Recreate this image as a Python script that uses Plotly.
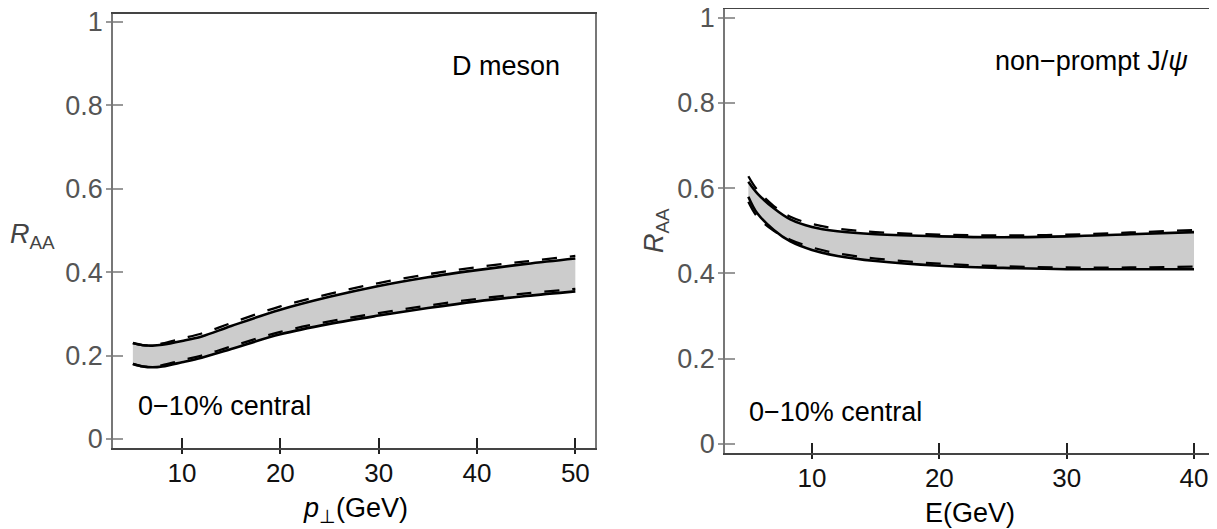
import plotly.graph_objects as go

W, H = 1217, 529
OX, OY = 8, 8  # page offset of the figure (browser body margin)

# ---------------- data: D meson (left) ----------------
d_pt = [5, 6, 7, 8, 10, 12, 15, 20, 25, 30, 35, 40, 45, 50]
d_up_solid = [0.230, 0.225, 0.224, 0.226, 0.235, 0.246, 0.271, 0.310, 0.341, 0.367, 0.388, 0.405, 0.420, 0.433]
d_up_dash = [0.230, 0.225, 0.225, 0.229, 0.241, 0.253, 0.278, 0.318, 0.348, 0.374, 0.395, 0.412, 0.426, 0.439]
d_lo_solid = [0.180, 0.174, 0.172, 0.174, 0.184, 0.195, 0.216, 0.251, 0.276, 0.296, 0.314, 0.330, 0.343, 0.354]
d_lo_dash = [0.180, 0.174, 0.173, 0.177, 0.189, 0.200, 0.222, 0.257, 0.282, 0.302, 0.320, 0.336, 0.349, 0.360]

# ---------------- data: non-prompt J/psi (right) ----------------
j_e = [5, 5.7, 7, 8.3, 10, 12, 15, 20, 25, 30, 35, 40]
j_up_solid = [0.615, 0.588, 0.553, 0.527, 0.509, 0.499, 0.492, 0.487, 0.485, 0.487, 0.492, 0.497]
j_up_dash = [0.628, 0.596, 0.558, 0.533, 0.516, 0.505, 0.497, 0.491, 0.489, 0.491, 0.496, 0.502]
j_lo_solid = [0.580, 0.541, 0.502, 0.475, 0.455, 0.441, 0.429, 0.418, 0.413, 0.410, 0.410, 0.410]
j_lo_dash = [0.568, 0.533, 0.500, 0.479, 0.461, 0.447, 0.435, 0.423, 0.417, 0.414, 0.414, 0.416]

x_ticks_left = [10, 20, 30, 40, 50]
x_ticks_right = [10, 20, 30, 40]
y_ticks = [0, 0.2, 0.4, 0.6, 0.8, 1]
y_tick_text = ["0", "0.2", "0.4", "0.6", "0.8", "1"]

FONT = "Liberation Sans"
FILL = "#cccccc"
DASH = "15px,13px"


def px_x(p):
    return (p - OX) / W


def px_y(p):
    return 1 - (p - OY) / H


fig = go.Figure()


def add_band(x, up_s, up_d, lo_s, lo_d, xa, ya):
    fig.add_trace(go.Scatter(x=x, y=lo_s, mode="lines", line=dict(width=0, shape="spline"),
                             xaxis=xa, yaxis=ya, showlegend=False, hoverinfo="skip"))
    fig.add_trace(go.Scatter(x=x, y=up_s, mode="lines", line=dict(width=0, shape="spline"),
                             fill="tonexty", fillcolor=FILL,
                             xaxis=xa, yaxis=ya, showlegend=False, hoverinfo="skip"))
    for yy in (up_d, lo_d):
        fig.add_trace(go.Scatter(x=x, y=yy, mode="lines",
                                 line=dict(color="black", width=2.3, dash=DASH, shape="spline"),
                                 xaxis=xa, yaxis=ya, showlegend=False))
    for yy in (up_s, lo_s):
        fig.add_trace(go.Scatter(x=x, y=yy, mode="lines",
                                 line=dict(color="black", width=2.6, shape="spline"),
                                 xaxis=xa, yaxis=ya, showlegend=False))


add_band(d_pt, d_up_solid, d_up_dash, d_lo_solid, d_lo_dash, "x", "y")
add_band(j_e, j_up_solid, j_up_dash, j_lo_solid, j_lo_dash, "x2", "y2")

# dummy traces so overlay tick axes are drawn
fig.add_trace(go.Scatter(x=[None], y=[None], xaxis="x3", yaxis="y3", showlegend=False))
fig.add_trace(go.Scatter(x=[None], y=[None], xaxis="x4", yaxis="y4", showlegend=False))

# ranges (page pixel -> data value calibrations from the reference)
L_xr = [2.98, 52.0]
L_yr = [-0.0216, 1.0192]
R_xr = [3.167, 40 + (W + OX - 1194) / 12.733]
R_yr = [-0.0211, 1.0202]

L_xdom = [px_x(113), px_x(595)]
L_ydom = [px_y(448), px_y(14)]
R_xdom = [px_x(725), 1.0]
R_ydom = [px_y(453), px_y(9)]

xtickfont = dict(family=FONT, size=26, color="#111111")
ytickfont = dict(family=FONT, size=27, color="#555555")

common_x = dict(showgrid=False, zeroline=False, showline=True, linecolor="#444444", linewidth=2,
                mirror=True, ticks="outside", ticklen=4, tickwidth=1.5, tickcolor="#222222",
                tickfont=xtickfont, automargin=False, ticklabeloverflow="allow",
                ticklabelstandoff=-3)
common_y = dict(showgrid=False, zeroline=False, showline=True, linecolor="#777777", linewidth=1.5,
                ticks="outside", ticklen=5, tickwidth=1.5, tickcolor="#999999",
                tickvals=y_ticks, ticktext=y_tick_text, tickfont=ytickfont, automargin=False,
                ticklabeloverflow="allow", ticklabelstandoff=-2)
ov = dict(showticklabels=False, showline=False, showgrid=False, zeroline=False,
          ticks="inside", ticklen=10, tickwidth=1.5, automargin=False)

fig.update_layout(
    width=W, height=H,
    margin=dict(l=0, r=0, t=0, b=0, pad=0, autoexpand=False),
    paper_bgcolor="white", plot_bgcolor="white",
    showlegend=False,
    xaxis=dict(domain=L_xdom, range=L_xr, anchor="y", tickvals=x_ticks_left, **common_x),
    yaxis=dict(domain=L_ydom, range=L_yr, anchor="x", mirror=True, **common_y),
    xaxis2=dict(domain=R_xdom, range=R_xr, anchor="y2", tickvals=x_ticks_right, **common_x),
    yaxis2=dict(domain=R_ydom, range=R_yr, anchor="x2", mirror=False, **common_y),
    # inner tick overlays
    xaxis3=dict(overlaying="x", anchor="y", range=L_xr, tickvals=x_ticks_left, tickcolor="#222222", **ov),
    yaxis3=dict(overlaying="y", anchor="x", range=L_yr, tickvals=y_ticks, tickcolor="#999999", **ov),
    xaxis4=dict(overlaying="x2", anchor="y2", range=R_xr, tickvals=x_ticks_right, tickcolor="#222222", **ov),
    yaxis4=dict(overlaying="y2", anchor="x2", range=R_yr, tickvals=y_ticks, tickcolor="#999999", **ov),
)


def ann(text, x, y, xanchor="left", yanchor="middle", angle=0, color="black", size=27):
    fig.add_annotation(text=text, x=px_x(x), y=px_y(y), xref="paper", yref="paper",
                       xanchor=xanchor, yanchor=yanchor, showarrow=False, textangle=angle,
                       font=dict(family=FONT, size=size, color=color))


ann("D meson", 450, 66)
ann("0−10% central", 136, 406)
ann("non−prompt J/<i>ψ</i>", 993, 61)
ann("0−10% central", 747, 412)
ann("<i>R</i><sub>AA</sub>", 8, 236, color="#444444")
ann("<i>R</i><sub>AA</sub>", 656, 231, xanchor="center", angle=-90, color="#444444")
ann("<i>p</i><sub>⊥</sub>(GeV)", 355, 510, xanchor="center")
ann("E(GeV)", 970, 513, xanchor="center")

fig.write_html("out.html")
